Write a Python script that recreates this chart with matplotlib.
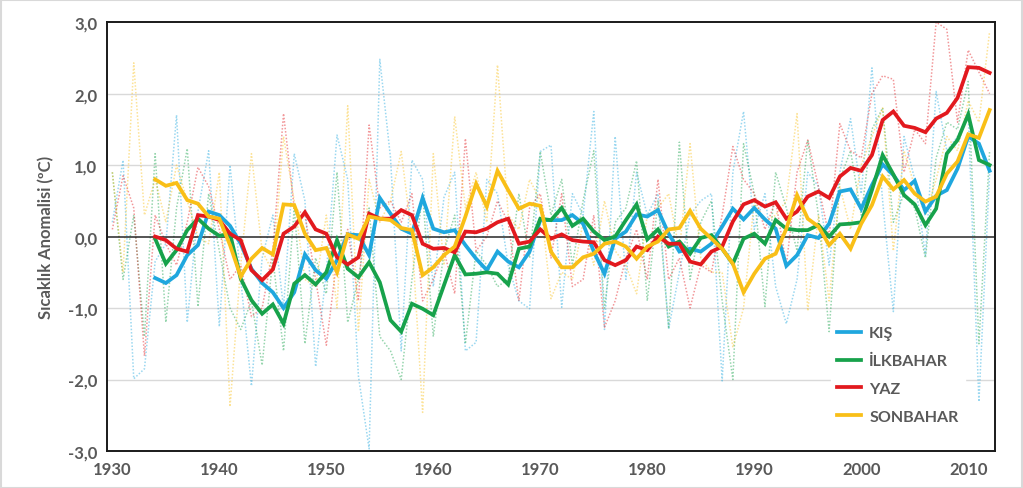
import matplotlib.pyplot as plt
from matplotlib.patches import Rectangle

plt.rcParams['font.family'] = ['Lato', 'DejaVu Sans']

# years
years = list(range(1930, 2013))
smooth_years = list(range(1934, 2013))

# yearly anomalies (dotted)
kis_raw = [0.2, 1.07, -1.99, -1.85, -0.35, -0.1, 1.7, -1.2, 0.35, 1.2,
           -1.26, 1.0, -0.6, -2.09, -0.3, 0.3, -1.0, 1.16, 0.5, -1.82,
           -0.5, 1.42, 0.8, -1.95, -2.97, 2.48, 1.1, -1.6, 1.07, 0.8,
           -0.7, 0.55, 0.9, -1.6, -1.48, 0.8, 0.6, -0.4, -0.9, -1.01,
           1.19, 1.28, -0.99, 0.6, 0.3, 1.75, -1.3, 1.4, -0.6, 0.9,
           0.3, 0.6, -1.29, -0.5, 0.3, 0.5, 0.6, -2.02, 0.9, 1.75,
           0.1, 0.6, -0.7, -1.22, -0.6, 0.9, 0.7, -0.4, 0.9, 1.65,
           0.6, 2.36, 0.5, -1.05, 1.4, 0.8, -0.26, 2.03, 1.2, 1.4,
           1.7, -2.31, 0.9]
ilk_raw = [0.9, -0.6, 0.3, -1.4, 1.16, -1.2, 0.4, 1.23, -0.98, 0.6,
           -0.2, -1.0, -1.3, -0.9, -1.8, -0.3, -1.6, 0.4, -1.5, -0.3,
           -0.8, 0.9, -1.2, -0.6, 0.4, -1.4, -1.6, -2.0, -0.6, 0.6,
           -1.4, -0.2, 0.3, -1.5, -0.2, -0.4, -0.7, -0.6, 0.6, -0.3,
           1.19, 0.3, 0.8, -0.4, 0.5, 1.2, -1.0, 0.2, 0.4, 1.06,
           -0.9, 0.5, -1.29, 1.32, -0.6, 0.2, 0.5, -0.9, -2.0, 1.3,
           0.6, -0.98, 0.9, 0.4, -0.2, 1.35, 0.3, -1.33, 0.8, 1.2,
           0.3, 1.5, 1.8, 0.2, 0.6, 0.4, -0.3, 1.1, 1.6, 1.5,
           2.17, -1.5, 1.2]
yaz_raw = [0.1, 0.85, 0.4, -1.67, 0.3, -0.1, -0.4, 0.2, 0.97, 0.7,
           0.1, -0.6, -0.4, -1.12, -1.0, -0.2, 1.72, 0.4, 0.3, -0.6,
           -1.52, -0.3, 0.1, -0.9, 1.56, 0.4, 0.5, 0.2, 0.6, -0.9,
           -0.6, -0.2, -0.8, 1.37, -0.2, 0.0, 0.5, 0.2, -0.9, 0.4,
           0.6, -0.3, 0.6, -0.7, -0.6, 0.3, -1.27, -0.9, -0.3, 0.1,
           -0.6, 0.8, -0.6, -0.3, -1.0, -0.4, -0.5, 0.3, 1.26, 0.8,
           0.6, 0.1, 0.5, -0.4, 0.9, 1.35, 0.7, 0.0, 1.58, 1.2,
           1.1, 2.0, 2.25, 2.2, 0.9, 1.5, 1.3, 3.0, 2.9, 1.6,
           2.61, 2.3, 2.0]
son_raw = [0.9, -0.5, 2.43, 0.3, 0.8, 0.2, 1.0, 0.5, 0.0, -0.1,
           0.9, -2.38, -0.4, 1.16, -0.2, -0.5, 1.4, 0.5, -0.6, -0.7,
           0.3, -1.0, 1.83, -1.33, 0.8, 0.2, 0.5, 1.19, 0.0, -2.46,
           1.16, -0.4, 1.68, 0.4, 0.9, 0.2, 2.4, 0.3, 0.1, 0.8,
           0.5, -0.87, -0.5, -0.6, 0.2, -0.4, 0.5, -0.2, -0.4, -0.8,
           0.3, 0.4, 0.6, -0.2, 1.3, -0.3, -0.5, -0.5, -1.55, -1.0,
           0.5, 0.2, 0.3, 0.5, 1.72, -1.04, 0.3, -0.9, 0.7, 0.1,
           1.0, 1.4, 1.8, -0.2, 1.2, 0.7, 0.3, 0.8, 1.4, 1.2,
           1.9, 1.6, 2.87]

# 5-year running means (solid)
kis = [-0.58, -0.65, -0.54, -0.26, -0.12, 0.35, 0.30, 0.15, -0.10, -0.45,
       -0.65, -0.78, -1.00, -0.78, -0.25, -0.47, -0.59, -0.33, 0.03, 0.02,
       -0.26, 0.54, 0.32, 0.11, 0.04, 0.54, 0.11, 0.06, 0.09, -0.12,
       -0.31, -0.47, -0.21, -0.35, -0.43, -0.21, 0.23, 0.23, 0.23, 0.30,
       0.18, -0.21, -0.52, -0.03, 0.07, 0.31, 0.28, 0.37, 0.04, -0.21,
       -0.17, -0.21, -0.10, 0.14, 0.39, 0.24, 0.40, 0.24, 0.11, -0.41,
       -0.26, 0.02, -0.02, 0.18, 0.63, 0.66, 0.39, 0.72, 1.01, 0.86,
       0.65, 0.78, 0.35, 0.57, 0.65, 0.95, 1.40, 1.30, 0.92]
ilkbahar = [-0.03, -0.38, -0.19, 0.09, 0.25, 0.11, 0.01, 0.04, -0.59, -0.89,
            -1.08, -0.95, -1.22, -0.66, -0.54, -0.67, -0.50, -0.05, -0.45, -0.57,
            -0.36, -0.64, -1.17, -1.33, -0.94, -1.01, -1.10, -0.68, -0.26, -0.53,
            -0.52, -0.50, -0.52, -0.67, -0.17, -0.14, 0.25, 0.23, 0.40, 0.15,
            0.25, 0.07, -0.05, 0.00, 0.23, 0.45, -0.04, 0.10, -0.14, -0.07,
            -0.24, -0.02, 0.02, -0.17, -0.38, -0.03, 0.04, -0.10, 0.23, 0.11,
            0.09, 0.09, 0.16, 0.00, 0.17, 0.18, 0.20, 0.65, 1.14, 0.87,
            0.58, 0.45, 0.16, 0.39, 1.16, 1.35, 1.71, 1.07, 1.00]
yaz = [0.00, -0.05, -0.17, -0.21, 0.30, 0.28, 0.23, 0.04, -0.05, -0.47,
       -0.61, -0.46, 0.04, 0.14, 0.34, 0.10, 0.04, -0.29, -0.39, -0.29,
       0.32, 0.25, 0.25, 0.37, 0.30, -0.10, -0.17, -0.16, -0.22, 0.07,
       0.06, 0.11, 0.20, 0.25, -0.10, -0.07, 0.10, -0.03, 0.03, -0.05,
       -0.07, -0.08, -0.33, -0.40, -0.33, -0.14, -0.19, 0.00, -0.10, -0.10,
       -0.35, -0.39, -0.21, -0.14, 0.21, 0.45, 0.51, 0.42, 0.48, 0.25,
       0.35, 0.56, 0.63, 0.54, 0.84, 0.96, 0.92, 1.14, 1.63, 1.75,
       1.55, 1.52, 1.46, 1.65, 1.73, 1.94, 2.37, 2.36, 2.29]
sonbahar = [0.80, 0.71, 0.75, 0.51, 0.46, 0.28, 0.25, -0.12, -0.56, -0.31,
            -0.16, -0.25, 0.45, 0.44, 0.04, -0.19, -0.16, -0.50, 0.03, -0.03,
            0.28, 0.25, 0.23, 0.12, 0.09, -0.54, -0.43, -0.26, -0.14, 0.28,
            0.74, 0.42, 0.92, 0.65, 0.39, 0.46, 0.43, -0.21, -0.43, -0.43,
            -0.29, -0.24, -0.10, -0.07, -0.14, -0.31, -0.14, -0.07, 0.10, 0.12,
            0.36, 0.11, -0.03, -0.17, -0.38, -0.78, -0.52, -0.31, -0.24, 0.11,
            0.58, 0.25, 0.14, -0.12, 0.04, -0.17, 0.18, 0.44, 0.84, 0.66,
            0.79, 0.60, 0.49, 0.56, 0.88, 1.05, 1.43, 1.38, 1.77]

labels = ['KIŞ', 'İLKBAHAR', 'YAZ', 'SONBAHAR']
colors = ['#1FA7DE', '#17A24B', '#E2191E', '#F9BF17']
raw = [kis_raw, ilk_raw, yaz_raw, son_raw]
smooth = [kis, ilkbahar, yaz, sonbahar]

fig = plt.figure(figsize=(10.23, 4.89), dpi=100)
ax = fig.add_axes([0.1046, 0.0757, 0.868, 0.877])

for r, c in zip(raw, colors):
    ax.plot(years, r, color=c, lw=1.1, ls=(0, (1, 1.2)), alpha=0.45, zorder=2)

for s, c, lab in zip(smooth, colors, labels):
    ax.plot(smooth_years, s, color=c, lw=2.7, label=lab, zorder=3,
            solid_joinstyle='miter')

for v in [-2, -1, 1, 2]:
    ax.axhline(v, color='#D9D9D9', lw=1, zorder=1)
ax.axhline(0, color='#262626', lw=1.1, zorder=2.5)

ax.set_xlim(1929.5, 2012.5)
ax.set_ylim(-3, 3)
ax.set_xticks(range(1930, 2011, 10))
ax.set_yticks([-3, -2, -1, 0, 1, 2, 3])
ax.set_yticklabels(['-3,0', '-2,0', '-1,0', '0,0', '1,0', '2,0', '3,0'])
ax.tick_params(length=0, labelsize=12, labelcolor='#595959', pad=7)
for t in ax.get_xticklabels() + ax.get_yticklabels():
    t.set_fontweight('bold')
for sp in ax.spines.values():
    sp.set_color('#1a1a1a')
    sp.set_linewidth(1.4)

ax.set_ylabel('Sıcaklık Anomalisi (ºC)', fontsize=12, fontweight='bold',
              color='#595959', labelpad=10)

leg = ax.legend(loc='lower right', bbox_to_anchor=(0.975, 0.03), frameon=True,
                fancybox=False, edgecolor='white', framealpha=1,
                handlelength=1.5, handletextpad=0.5, labelspacing=0.85,
                fontsize=11.5)
for t in leg.get_texts():
    t.set_fontweight('bold')
    t.set_color('#595959')
leg.set_zorder(5)

fig.patches.append(Rectangle((0.001, 0.001), 0.998, 0.997, transform=fig.transFigure,
                             fill=False, edgecolor='#D9D9D9', lw=1.5))

plt.savefig('out.png', dpi=100)
